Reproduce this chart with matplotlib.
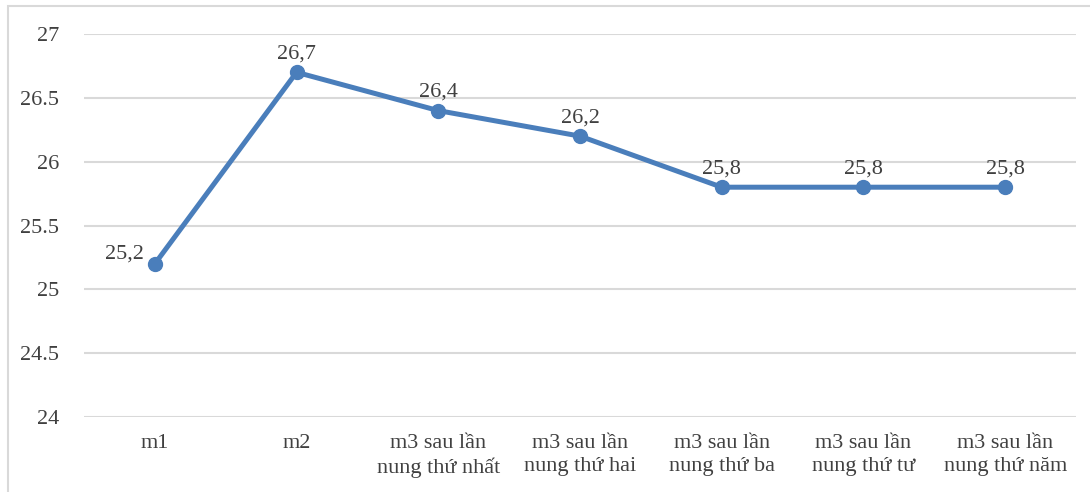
import matplotlib
matplotlib.use("Agg")
import matplotlib.pyplot as plt
from matplotlib.patches import Rectangle

# data
categories = ["m1", "m2", "m3 sau lần\nnung thứ nhất", "m3 sau lần\nnung thứ hai",
              "m3 sau lần\nnung thứ ba", "m3 sau lần\nnung thứ tư", "m3 sau lần\nnung thứ năm"]
values = [25.2, 26.7, 26.4, 26.2, 25.8, 25.8, 25.8]
labels = ["25,2", "26,7", "26,4", "26,2", "25,8", "25,8", "25,8"]
yticks = [24, 24.5, 25, 25.5, 26, 26.5, 27]
ytick_labels = ["24", "24.5", "25", "25.5", "26", "26.5", "27"]

plt.rcParams['font.family'] = ['Liberation Serif', 'DejaVu Serif']
text_color = '#404040'
line_color = '#4A7EBB'

fig = plt.figure(figsize=(10.9, 4.92), dpi=100)
ax = fig.add_axes([84 / 1090, 1 - 417 / 492, (1076 - 84) / 1090, (417 - 34) / 492])

# chart border (only left and top visible in the crop)
fig.patches.append(Rectangle((8 / 1090, -0.1), 1.2, 0.1 + 1 - 6 / 492, transform=fig.transFigure,
                             fill=False, edgecolor='#d9d9d9', linewidth=1.5, zorder=0))

x = list(range(len(categories)))
ax.plot(x, values, color=line_color, linewidth=3.6, marker='o', markersize=10,
        solid_capstyle='round', zorder=3)

# data labels
for i, (v, lab) in enumerate(zip(values, labels)):
    if i == 0:
        ax.annotate(lab, (i, v), xytext=(-22, 7), textcoords='offset points',
                    ha='center', va='center', fontsize=16, color=text_color)
    else:
        ax.annotate(lab, (i, v), xytext=(0, 13), textcoords='offset points',
                    ha='center', va='center', fontsize=16, color=text_color)

ax.set_xlim(-0.5, len(categories) - 0.5)
ax.set_ylim(24, 27)
ax.set_yticks(yticks)
ax.set_yticklabels(ytick_labels)
ax.set_xticks(x)
ax.set_xticklabels(categories, linespacing=1.3)
ax.tick_params(axis='both', length=0, labelsize=16, labelcolor=text_color)
ax.tick_params(axis='y', pad=18)
ax.tick_params(axis='x', pad=12)

ax.grid(axis='y', color='#d9d9d9', linewidth=1.5, zorder=0)
for s in ax.spines.values():
    s.set_visible(False)

fig.savefig("out.png", dpi=100)
